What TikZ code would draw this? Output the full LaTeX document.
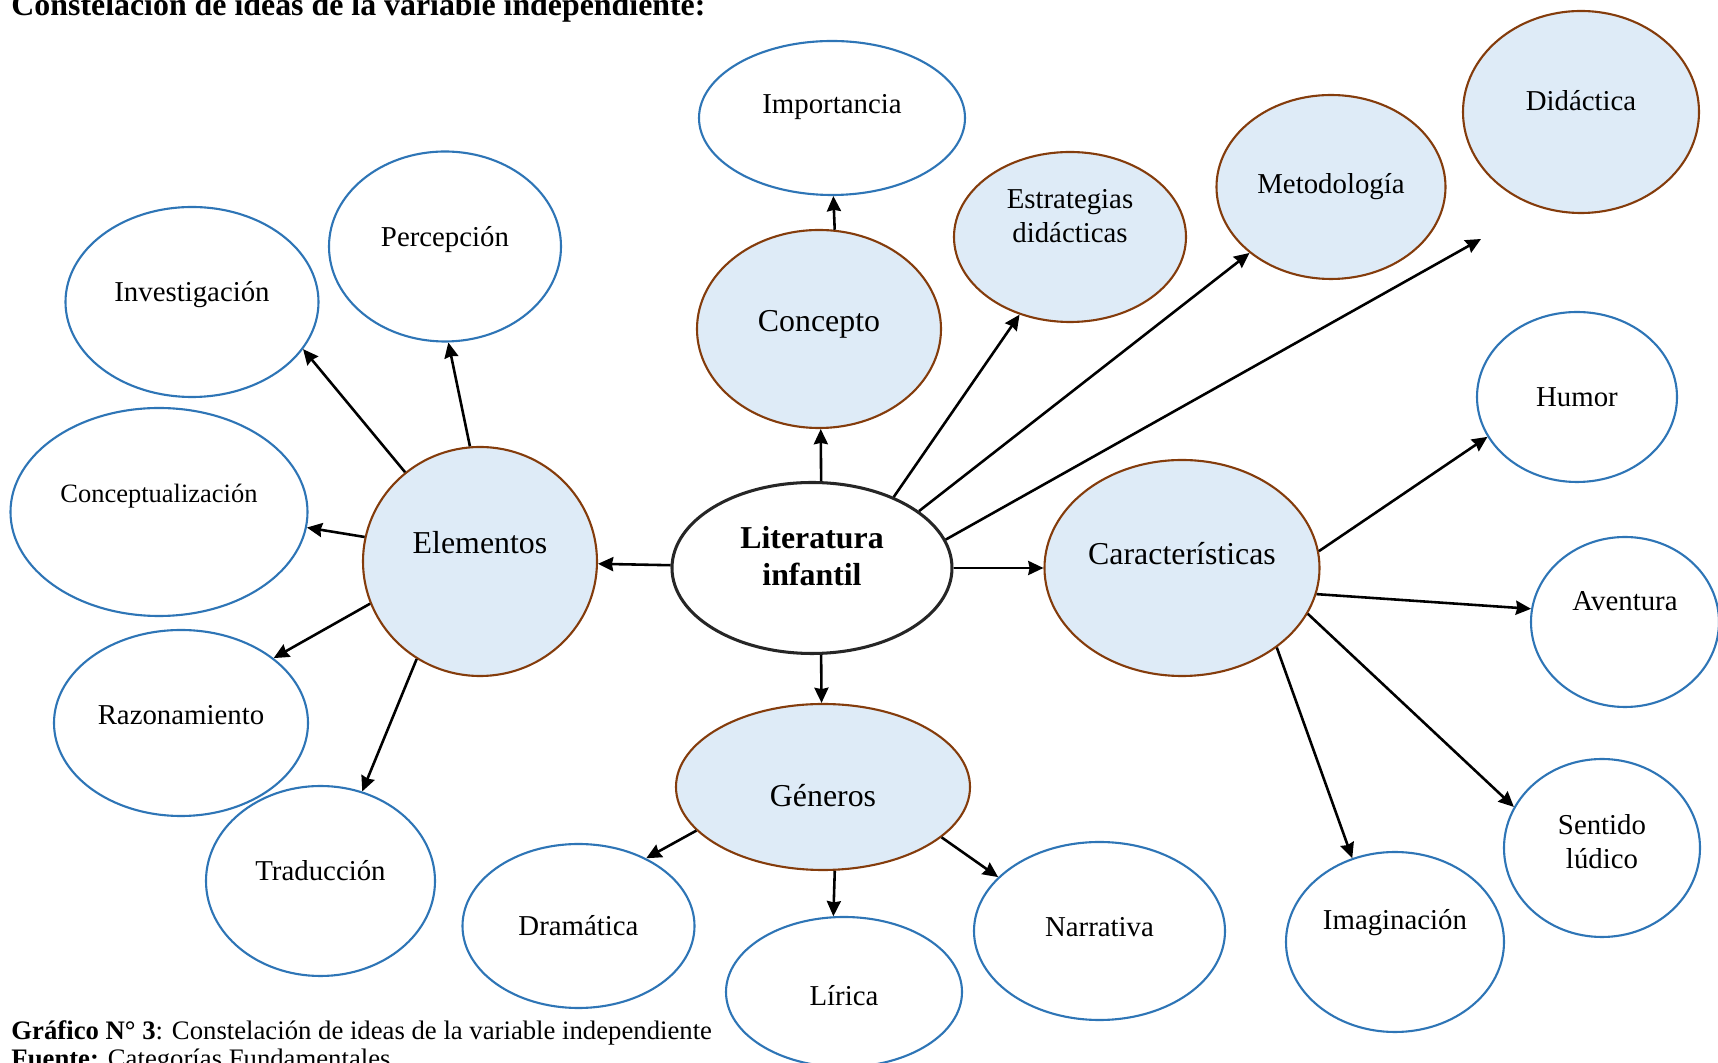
\documentclass[tikz,border=0pt]{standalone}
\usepackage{fontspec}
\setmainfont{Liberation Serif}
\usetikzlibrary{shapes.geometric, arrows.meta}
\definecolor{fondo}{HTML}{DEEBF7}
\definecolor{marron}{HTML}{843C0C}
\definecolor{azul}{HTML}{2E75B6}
\tikzset{>={Stealth[length=6.5pt, width=6pt, inset=0.6pt]}}
\tikzset{
  hoja/.style={ellipse, draw=azul, line width=0.9pt, fill=white, inner sep=0pt,
    font=\fontsize{12.3}{14.5}\selectfont},
  rama/.style={ellipse, draw=marron, line width=0.9pt, fill=fondo, inner sep=0pt,
    font=\fontsize{12.3}{14.5}\selectfont},
  grande/.style={font=\fontsize{13.6}{16}\selectfont},
  centro/.style={ellipse, draw=black!85, line width=1.3pt, fill=white, inner sep=0pt,
    font=\bfseries\fontsize{13.6}{16}\selectfont},
  tam/.style 2 args={minimum width=#1*0.03cm, minimum height=#2*0.03cm},
  flecha/.style={->, line width=1.1pt}
}
\newcommand\subir[2]{\raisebox{\dimexpr#1-1.4pt\relax}[\height][\depth]{\begin{tabular}{@{}c@{}}#2\end{tabular}}}

\begin{document}
\begin{tikzpicture}[x=0.015cm, y=-0.015cm]
\useasboundingbox (0,0) rectangle (1718,1063);
% textos
\node[anchor=base west, inner sep=0pt, font=\bfseries\fontsize{13.6}{16}\selectfont] (titulo) at (11,16) {Constelación de ideas de la variable independiente:};
\node[anchor=base west, inner sep=0pt, font=\fontsize{11.4}{13}\selectfont] (pie) at (11,1040) {\textbf{Gráfico N° 3}: Constelación de ideas de la variable independiente};
\node[anchor=base west, inner sep=0pt, font=\fontsize{11.4}{13}\selectfont] (fuente) at (11,1068) {\textbf{Fuente:} Categorías Fundamentales};
% centro
\node[centro, tam={140}{85.5}] (lit) at (812,568) {\subir{5pt}{Literatura\\infantil}};
% arriba
\node[hoja, tam={133}{77}] (imp) at (832,118) {\subir{6.4pt}{Importancia}};
\node[rama, grande, tam={122}{99}] (con) at (819,329) {\subir{3.4pt}{Concepto}};
\node[rama, tam={116}{85}] (est) at (1070,237) {\subir{9pt}{Estrategias\\didácticas}};
\node[rama, tam={114.5}{92}] (met) at (1331,187) {\subir{1.7pt}{Metodología}};
\node[rama, tam={118}{101}] (dida) at (1581,112) {\subir{5pt}{Didáctica}};
% derecha
\node[rama, grande, tam={137.5}{108}] (car) at (1182,568) {\subir{6pt}{Características}};
\node[hoja, tam={100}{85}] (hum) at (1577,397) {Humor};
\node[hoja, tam={94}{85}] (ave) at (1625,622) {\subir{9.4pt}{Aventura}};
\node[hoja, tam={98}{89}] (sen) at (1602,848) {\subir{3pt}{Sentido\\lúdico}};
\node[hoja, tam={109}{90}] (ima) at (1395,942) {\subir{9.8pt}{Imaginación}};
% abajo
\node[rama, grande, tam={147}{83}] (gen) at (823,787) {\subir{-3.8pt}{Géneros}};
\node[hoja, tam={116}{82}] (dra) at (578.5,926) {Dramática};
\node[hoja, tam={118}{75}] (lir) at (844,992) {\subir{-1.3pt}{Lírica}};
\node[hoja, tam={125.5}{89}] (nar) at (1099.5,931) {\subir{2pt}{Narrativa}};
% izquierda
\node[rama, grande, tam={117}{114.5}] (ele) at (480,561.5) {\subir{8pt}{Elementos}};
\node[hoja, tam={116}{95}] (per) at (445,246.5) {\subir{4.3pt}{Percepción}};
\node[hoja, tam={126.5}{95}] (inv) at (192,302) {\subir{4.3pt}{Investigación}};
\node[hoja, font=\fontsize{11.3}{13.5}\selectfont, tam={148.5}{104}] (cpt) at (159,512) {\subir{8pt}{Conceptualización}};
\node[hoja, tam={127}{93}] (raz) at (181,723) {\subir{3.8pt}{Razonamiento}};
\node[hoja, tam={114.5}{95}] (tra) at (320.5,881) {\subir{4.3pt}{Traducción}};
% flechas
\coordinate (puntaD) at (1481,239);
\draw[flecha] (lit.84) -- (con.271);
\draw[flecha] (con.81) -- (imp.-89);
\draw[flecha] (lit.41) -- (est.237);
\draw[flecha] (lit.28) -- (met.219);
\draw[flecha] (lit.12) -- (puntaD);
\draw[flecha] (lit) -- (car);
\draw[flecha] (lit.-84) -- (gen.91);
\draw[flecha] (lit) -- (ele);
\draw[flecha] (ele.95) -- (per.-88);
\draw[flecha] (ele.130) -- (inv.-23);
\draw[flecha] (ele.168) -- (cpt.-6);
\draw[flecha] (ele.201) -- (raz.35);
\draw[flecha] (ele.237) -- (tra.65);
\draw[flecha] (gen.199) -- (dra.45);
\draw[flecha] (gen.-82) -- (lir.98);
\draw[flecha] (gen.-23) -- (nar.152);
\draw[flecha] (car.7) -- (hum.204);
\draw[flecha] (car.-11) -- (ave.172);
\draw[flecha] (car.-20) -- (sen.155);
\draw[flecha] (car.-40) -- (ima.117);
\end{tikzpicture}
\end{document}
